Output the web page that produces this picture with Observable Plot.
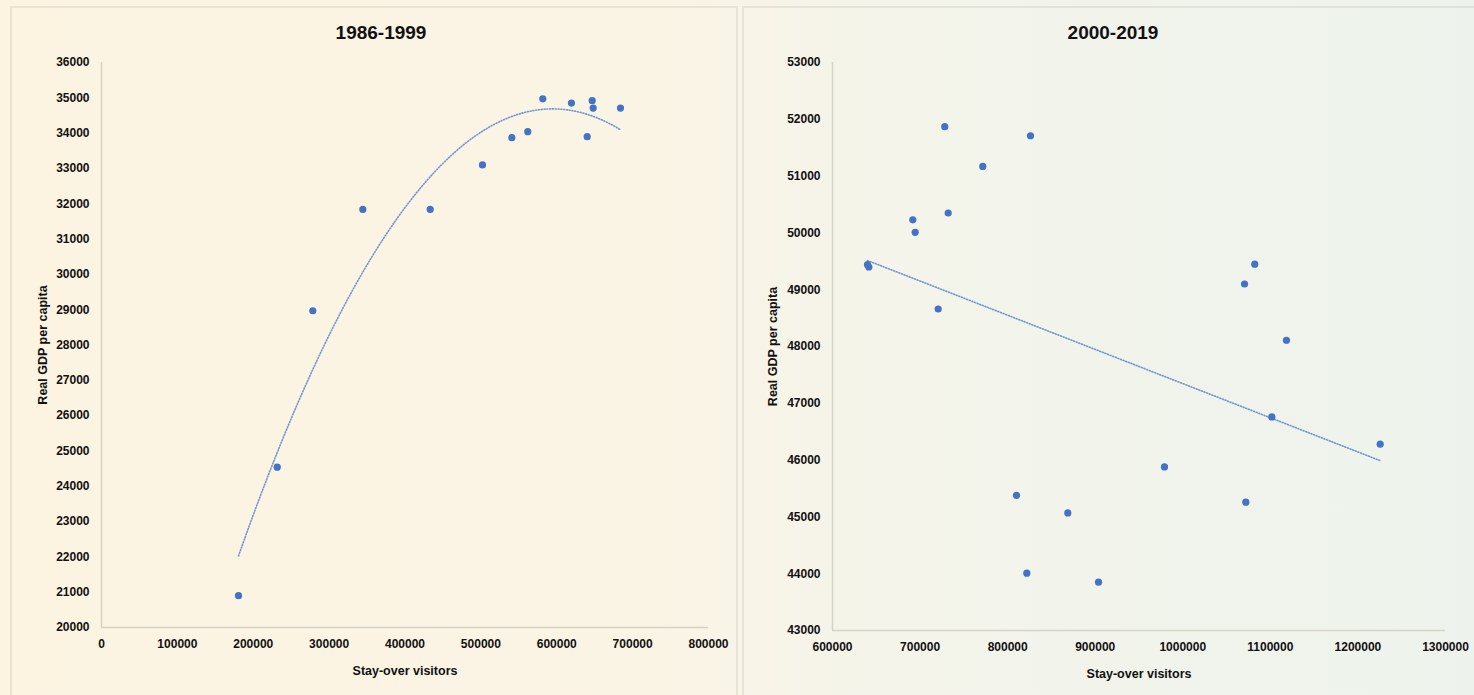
<!DOCTYPE html>
<html><head><meta charset="utf-8">
<script src="https://cdn.jsdelivr.net/npm/d3@7"></script>
<script src="https://cdn.jsdelivr.net/npm/@observablehq/plot@0.6"></script>
<style>
body{margin:0;width:1474px;height:695px;overflow:hidden;position:relative;
  background:linear-gradient(to right,#fcf4e1 0%,#faf4e5 45%,#f4f4ea 60%,#edf3ec 100%);
  font-family:"Liberation Sans",Arial,sans-serif;}
.frame{position:absolute;border:2px solid rgba(200,195,180,0.35);box-sizing:border-box;}
.title{position:absolute;top:22px;width:240px;text-align:center;font-weight:bold;font-size:19px;line-height:22px;color:#111;}
.chart{position:absolute;top:0;}
.chart svg{display:block;}
</style></head><body>
<div class="frame" style="left:10px;top:6px;width:728px;height:692px"></div>
<div class="frame" style="left:742px;top:6px;width:740px;height:692px"></div>
<div class="chart" id="left" style="left:0px"></div>
<div class="chart" id="right" style="left:740px"></div>
<div class="title" style="left:261px">1986-1999</div>
<div class="title" style="left:993px">2000-2019</div>
<script>
// 1986-1999
const visitorsA = [180600, 231600, 278500, 344400, 433200, 502100, 540800, 561800, 581600, 619400, 640100, 646700, 648000, 684000];
const gdpA      = [20900, 24540, 28970, 31840, 31840, 33100, 33870, 34040, 34970, 34850, 33900, 34920, 34710, 34710];
const xTicksA = [0, 100000, 200000, 300000, 400000, 500000, 600000, 700000, 800000];
const yTicksA = [20000, 21000, 22000, 23000, 24000, 25000, 26000, 27000, 28000, 29000, 30000, 31000, 32000, 33000, 34000, 35000, 36000];
// 2000-2019
const visitorsB = [641500, 640000, 691700, 694400, 728200, 732100, 720700, 771600, 826100, 810100, 821900, 868700, 903800, 979100, 1070500, 1082200, 1118400, 1101700, 1072000, 1225400];
const gdpB      = [49400, 49440, 50230, 50010, 51870, 50350, 48660, 51170, 51710, 45380, 44010, 45070, 43850, 45880, 49100, 49450, 48110, 46760, 45260, 46280];
const xTicksB = [600000, 700000, 800000, 900000, 1000000, 1100000, 1200000, 1300000];
const yTicksB = [43000, 44000, 45000, 46000, 47000, 48000, 49000, 50000, 51000, 52000, 53000];

const titleX = "Stay-over visitors";
const titleY = "Real GDP per capita";

const blue = "#4472c4";
const font = "'Liberation Sans', Arial, sans-serif";

const dataA = visitorsA.map((v, i) => ({x: v, y: gdpA[i]}));
const dataB = visitorsB.map((v, i) => ({x: v, y: gdpB[i]}));

// quadratic least-squares trend for 1986-1999
function quadFit(xs, ys) {
  const s = 1e5;
  const u = xs.map(x => x / s);
  const S = k => d3.sum(u, v => v ** k);
  const T = k => d3.sum(u, (v, i) => v ** k * ys[i]);
  const A = [[S(0), S(1), S(2)], [S(1), S(2), S(3)], [S(2), S(3), S(4)]];
  const b = [T(0), T(1), T(2)];
  for (let i = 0; i < 3; i++) {
    for (let j = i + 1; j < 3; j++) {
      const f = A[j][i] / A[i][i];
      for (let k = i; k < 3; k++) A[j][k] -= f * A[i][k];
      b[j] -= f * b[i];
    }
  }
  const c = [0, 0, 0];
  for (let i = 2; i >= 0; i--) {
    let v = b[i];
    for (let k = i + 1; k < 3; k++) v -= A[i][k] * c[k];
    c[i] = v / A[i][i];
  }
  return x => c[0] + c[1] * (x / s) + c[2] * (x / s) ** 2;
}
const fA = quadFit(visitorsA, gdpA);
const [minA, maxA] = d3.extent(visitorsA);
const trendA = d3.range(0, 121).map(i => {
  const x = minA + (maxA - minA) * i / 120;
  return {x, y: fA(x)};
});

const axisStyle = {tickSize: 0, tickPadding: 12, tickFormat: d => String(d), label: null, fontSize: 12, fontWeight: "bold", fill: "#111"};
const labelStyle = {fontSize: 12.5, fontWeight: "bold", fill: "#111", textAnchor: "middle", lineAnchor: "middle"};

function panel(opts) {
  return Plot.plot({
    width: opts.width, height: 695,
    marginLeft: opts.ml, marginRight: opts.mr, marginTop: 62, marginBottom: opts.mb,
    style: {background: "transparent", fontFamily: font, fontSize: "12px", color: "#111", overflow: "visible"},
    x: {domain: opts.xd},
    y: {domain: opts.yd},
    marks: [
      Plot.ruleX([opts.xd[0]], {stroke: "#d6d2c6", strokeWidth: 1.5}),
      Plot.ruleY([opts.yd[0]], {stroke: "#d6d2c6", strokeWidth: 1.5}),
      Plot.axisX({...axisStyle, ticks: opts.xt}),
      Plot.axisY({...axisStyle, ticks: opts.yt}),
      ...opts.trend,
      Plot.dot(opts.data, {x: "x", y: "y", r: 3.6, fill: blue, stroke: "none"}),
      Plot.text([titleY], {...labelStyle, frameAnchor: "left", rotate: -90, dx: opts.ylx}),
      Plot.text([titleX], {...labelStyle, frameAnchor: "bottom", dy: 43})
    ]
  });
}

const trendStyle = {stroke: "#5a86cf", strokeWidth: 1.6, strokeDasharray: "1 1.8", strokeOpacity: 0.85};

document.getElementById("left").append(panel({
  width: 737, ml: 101, mr: 29, mb: 68,
  xd: [0, 800000], yd: [20000, 36000], xt: xTicksA, yt: yTicksA,
  data: dataA, ylx: -59,
  trend: [Plot.line(trendA, {x: "x", y: "y", curve: "linear", ...trendStyle})]
}));

document.getElementById("right").append(panel({
  width: 734, ml: 92, mr: 29, mb: 65,
  xd: [600000, 1300000], yd: [43000, 53000], xt: xTicksB, yt: yTicksB,
  data: dataB, ylx: -60,
  trend: [Plot.linearRegressionY(dataB, {x: "x", y: "y", ci: 0, ...trendStyle})]
}));
</script>
</body></html>
